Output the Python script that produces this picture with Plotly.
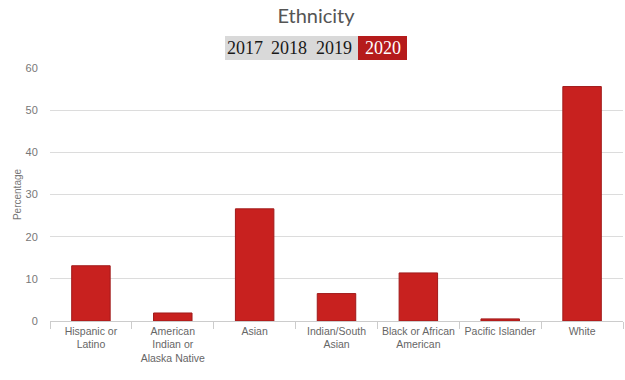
import plotly.graph_objects as go

categories = ["Hispanic or<br>Latino", "American<br>Indian or<br>Alaska Native", "Asian",
              "Indian/South<br>Asian", "Black or African<br>American", "Pacific Islander", "White"]
values_2020 = [13.1, 1.9, 26.6, 6.5, 11.4, 0.5, 55.6]
years = ["2017", "2018", "2019", "2020"]
y_ticks = [0, 10, 20, 30, 40, 50, 60]

W, H = 625, 380
L, R, T, B = 50, 2, 68, 59
pw, ph = W - L - R, H - T - B

def px(x):
    return (x - L) / pw

def py(y):
    return (H - B - y) / ph

fig = go.Figure()
fig.add_trace(go.Bar(
    x=categories, y=values_2020, width=0.47,
    marker=dict(color="#c8211f", line=dict(color="#a01a1a", width=1)),
    hoverinfo="x+y",
))

shapes = [
    dict(type="rect", xref="paper", yref="paper", x0=px(225), x1=px(358), y0=py(60), y1=py(36),
         fillcolor="#d9d9d9", line=dict(width=0), layer="below"),
    dict(type="rect", xref="paper", yref="paper", x0=px(358), x1=px(407), y0=py(60), y1=py(36),
         fillcolor="#b51b1b", line=dict(width=0), layer="below"),
]
year_x = [245, 289, 334, 383]
annotations = []
for yr, xc in zip(years, year_x):
    annotations.append(dict(
        text=yr, xref="paper", yref="paper", x=px(xc), y=py(48), xanchor="center", yanchor="middle",
        showarrow=False,
        font=dict(family="Liberation Serif, DejaVu Serif, serif", size=18,
                  color="#ffffff" if yr == "2020" else "#1a1a1a"),
    ))

fig.update_layout(
    width=W, height=H,
    margin=dict(l=L, r=R, t=T, b=B, autoexpand=False),
    paper_bgcolor="white", plot_bgcolor="white",
    title=dict(text="Ethnicity", x=316 / W, xanchor="center", y=1 - 16 / H, yanchor="middle",
               xref="container", yref="container",
               font=dict(family="Lato, Open Sans, sans-serif", size=20, color="#555555")),
    showlegend=False,
    shapes=shapes,
    annotations=annotations,
    xaxis=dict(
        showgrid=False, showline=True, linecolor="#cccccc", linewidth=1,
        ticks="outside", tickson="boundaries", ticklen=7, tickcolor="#cccccc",
        tickangle=0, automargin=False,
        tickfont=dict(family="Liberation Sans, Arial, sans-serif", size=10.5, color="#666666"),
        fixedrange=True,
    ),
    yaxis=dict(
        range=[0, 60], tickvals=y_ticks, showgrid=True, gridcolor="#dcdcdc", gridwidth=1,
        zeroline=False, showline=False, automargin=False,
        ticks="outside", ticklen=9, tickcolor="rgba(0,0,0,0)",
        tickfont=dict(family="Liberation Sans, Arial, sans-serif", size=11, color="#777777"),
        title=dict(text="Percentage", standoff=2,
                   font=dict(family="Liberation Sans, Arial, sans-serif", size=10, color="#777777")),
        fixedrange=True,
    ),
)

fig.write_html("out.html", config={"displayModeBar": False},
               post_script="document.body.style.margin='0px';")
